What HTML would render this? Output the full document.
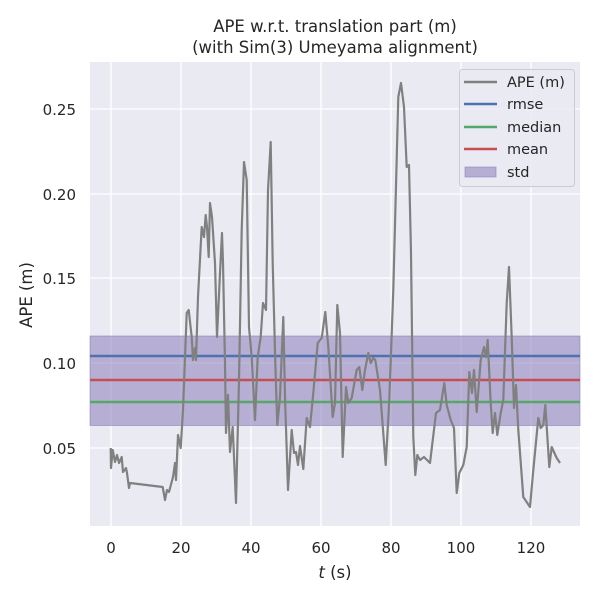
<!DOCTYPE html><html><head><meta charset="utf-8"><style>body{margin:0;background:#fff}</style></head><body>
<svg width="600" height="600" xmlns="http://www.w3.org/2000/svg" font-family="DejaVu Sans, Liberation Sans, sans-serif" fill="#262626">
<rect x="90" y="62" width="490" height="464" fill="#eaeaf2"/>
<g stroke="#fff" stroke-width="1.3">
<line x1="111" y1="62" x2="111" y2="526"/><line x1="181" y1="62" x2="181" y2="526"/><line x1="251" y1="62" x2="251" y2="526"/><line x1="321" y1="62" x2="321" y2="526"/><line x1="391" y1="62" x2="391" y2="526"/><line x1="461" y1="62" x2="461" y2="526"/><line x1="531" y1="62" x2="531" y2="526"/>
<line x1="90" y1="448" x2="580" y2="448"/><line x1="90" y1="363" x2="580" y2="363"/><line x1="90" y1="278" x2="580" y2="278"/><line x1="90" y1="194" x2="580" y2="194"/><line x1="90" y1="109" x2="580" y2="109"/>
</g>
<rect x="90" y="336" width="490" height="89.5" fill="#8172b3" fill-opacity="0.5" stroke="#8172b3" stroke-opacity="0.5"/>
<line x1="90" y1="356" x2="580" y2="356" stroke="#4c72b0" stroke-width="2.4"/>
<line x1="90" y1="380" x2="580" y2="380" stroke="#c44e52" stroke-width="2.4"/>
<line x1="90" y1="402" x2="580" y2="402" stroke="#55a868" stroke-width="2.4"/>
<polyline fill="none" stroke="#808080" stroke-width="2.2" stroke-linejoin="round" points="110.7,448 111,468 112.7,450 115,462 117,455 119,463 121.7,457 123,472 126,468 127,473 129,488 130,483 162.7,487 165,500 167,490 169,492 173,477 175,463 176,480 178,435 180.7,448 183,410 186.7,313 188.7,310 191.7,337 193,360 195,348 196,360 198,297 201.7,227 204,237 205.7,215 207,227 208.7,257 210,203 212,217 215,263 217,337 220,273 222,233 223,263 225,363 226,433 228,395 230,452 232.7,427 236,503 239,380 241.7,230 244,162 246.7,180 249,327 251.7,357 255,420 257.7,357 260.7,337 263,303 266,310 268,190 270.7,142 272.7,263 275.3,363 277.3,425 280,397 283.3,317 285,397 288,490 291.7,430 294,453 296,452 298,465 300,446 303.3,469 306.7,418 310,427 313.3,393 317.7,343 321.7,338 325.3,312 328.3,347 332.7,417 335,403 337.3,305 340,333 342.7,457 346,387 348.3,403 351.7,398 356.7,370 359.3,367 362.3,390 365,370 368.3,353 370.7,363 373.3,358 375.3,360 380,390 385.7,465 389.3,400 393.3,290 398.3,97 401,83 404,107 406.7,167 409,165 411,253 413.3,437 415.3,475 417.3,455 420,460 424,457 430,463 436,413 440,410 444.3,383 446.7,405 450.7,420 454,428 456.7,493 459.3,473 463.3,465 466.7,447 469.3,372 472,393 474,370 476.7,412 480.7,360 484,347 486,357 487.7,340 490.7,403 492.7,433 495,413 497.3,435 500.7,413 503.3,400 506.7,303 509,267 511.7,337 514,408 516,385 518.3,430 523.3,497 530,507 533.3,470 538.3,418 540.7,428 543.3,425 545.3,405 549.3,467 551.7,447 556.7,458 560,463"/>
<g font-size="15" text-anchor="middle">
<text x="111" y="553">0</text><text x="181" y="553">20</text><text x="251" y="553">40</text><text x="321" y="553">60</text><text x="391" y="553">80</text><text x="461" y="553">100</text><text x="531" y="553">120</text>
</g>
<g font-size="15" text-anchor="end">
<text x="76" y="454">0.05</text><text x="76" y="369">0.10</text><text x="76" y="284">0.15</text><text x="76" y="200">0.20</text><text x="76" y="115">0.25</text>
</g>
<text x="335" y="578" font-size="16.5" text-anchor="middle"><tspan font-style="italic">t</tspan> (s)</text>
<text transform="translate(32,295) rotate(-90)" font-size="16.5" text-anchor="middle">APE (m)</text>
<text x="335" y="32" font-size="16.5" text-anchor="middle">APE w.r.t. translation part (m)</text>
<text x="335" y="53" font-size="16.5" text-anchor="middle">(with Sim(3) Umeyama alignment)</text>
<rect x="459.5" y="69.5" width="115" height="117" rx="3" fill="#eaeaf2" fill-opacity="0.8" stroke="#ccc"/>
<g stroke-width="2.4"><line x1="464" y1="82" x2="497" y2="82" stroke="#808080"/><line x1="464" y1="104" x2="497" y2="104" stroke="#4c72b0"/><line x1="464" y1="127" x2="497" y2="127" stroke="#55a868"/><line x1="464" y1="149" x2="497" y2="149" stroke="#c44e52"/></g>
<rect x="465" y="167" width="31" height="10" fill="#8172b3" fill-opacity="0.5" stroke="#8172b3" stroke-opacity="0.5"/>
<g font-size="14.5"><text x="507" y="87">APE (m)</text><text x="507" y="109">rmse</text><text x="507" y="132">median</text><text x="507" y="154">mean</text><text x="507" y="177">std</text></g>
</svg></body></html>
